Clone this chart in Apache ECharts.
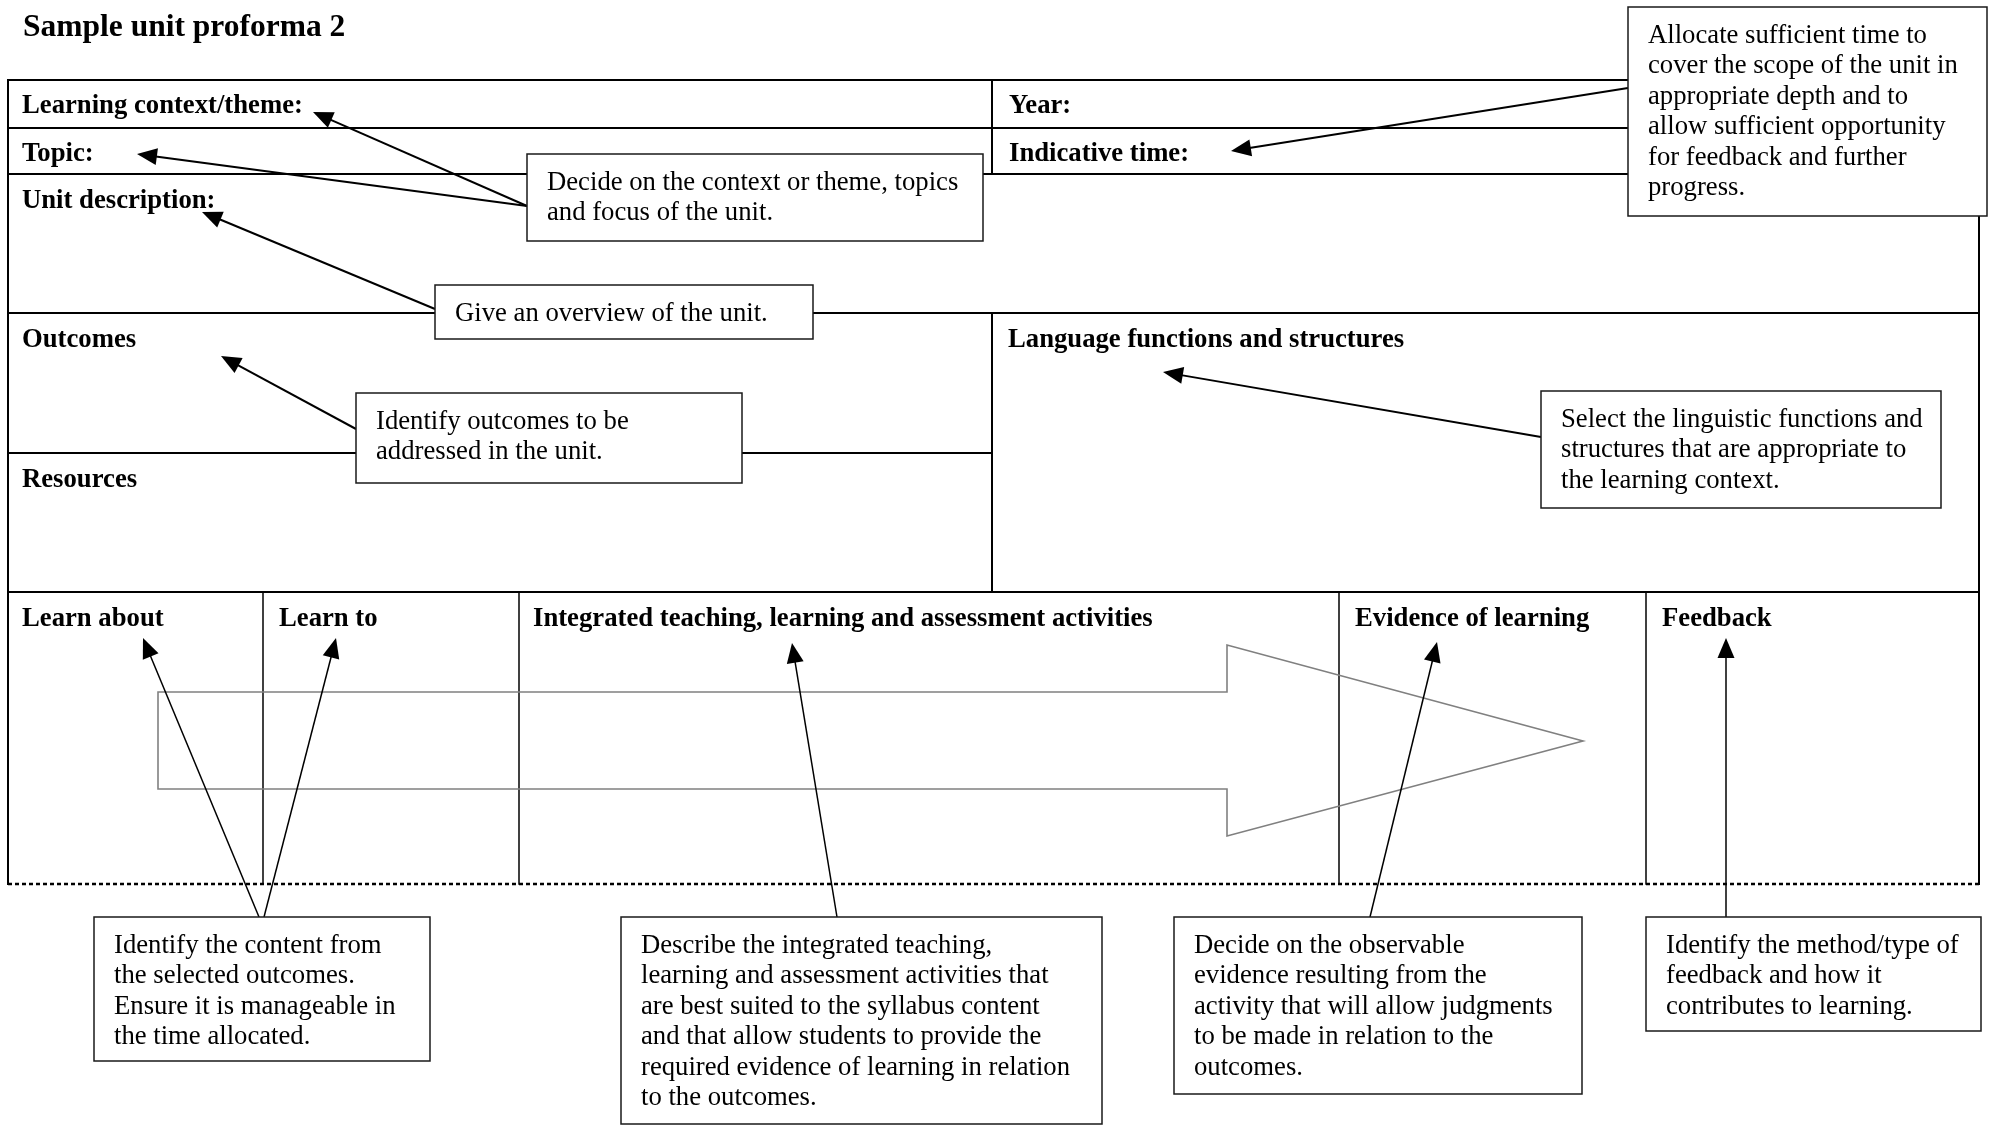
<!DOCTYPE html>
<html><head><meta charset="utf-8">
<script src="https://cdn.jsdelivr.net/npm/echarts@6/dist/echarts.min.js"></script>
<style>html,body{margin:0;padding:0;background:#fff;}#c{width:1993px;height:1128px;}</style>
</head><body><div id="c"></div>
<script>
// ---- data (diagram coordinates in a 1993 x 1128 value space) ----
const pageTitle = ['Sample unit proforma 2', 23, 28];
const headingTexts = ['Learning context/theme:', 'Topic:', 'Unit description:', 'Year:', 'Indicative time:',
  'Outcomes', 'Resources', 'Language functions and structures', 'Learn about', 'Learn to',
  'Integrated teaching, learning and assessment activities', 'Evidence of learning', 'Feedback'];
const headingX = [22, 22, 22, 1009, 1009, 22, 22, 1008, 22, 279, 533, 1355, 1662];
const headingY = [106, 154, 201, 106, 154, 340, 480, 340, 619, 619, 619, 619, 619];

const ruleLinesThick = [
  [8, 80, 1979, 80], [8, 128, 1979, 128], [8, 174, 1979, 174], [8, 313, 1979, 313],
  [8, 453, 992, 453], [8, 592, 1979, 592],
  [8, 80, 8, 884], [1979, 80, 1979, 884], [992, 80, 992, 174], [992, 313, 992, 592]
];
const ruleLinesThin = [[263, 592, 263, 884], [519, 592, 519, 884], [1339, 592, 1339, 884], [1646, 592, 1646, 884]];
const dottedLine = [[8, 884, 1979, 884]];
const flowArrowOutline = [[158, 692], [1227, 692], [1227, 645], [1583, 741], [1227, 836], [1227, 789], [158, 789]];

const pointersTop = [
  [527, 206, 313, 112], [527, 206, 137, 154], [435, 309, 202, 212],
  [1628, 88, 1231, 151], [356, 429, 221, 356], [1541, 437, 1163, 372]
];
const pointersBottom = [
  [259, 917, 143, 638], [264, 917, 336, 638], [837, 917, 792, 643], [1370, 917, 1437, 642], [1726, 917, 1726, 638]
];

const calloutBoxes = [
  [527, 154, 983, 241], [435, 285, 813, 339], [1628, 7, 1987, 216], [356, 393, 742, 483],
  [1541, 391, 1941, 508], [94, 917, 430, 1061], [621, 917, 1102, 1124], [1174, 917, 1582, 1094], [1646, 917, 1981, 1031]
];
const calloutLines = [
  ['Decide on the context or theme, topics', 'and focus of the unit.'],
  ['Give an overview of the unit.'],
  ['Allocate sufficient time to', 'cover the scope of the unit in', 'appropriate depth and to', 'allow sufficient opportunity', 'for feedback and further', 'progress.'],
  ['Identify outcomes to be', 'addressed in the unit.'],
  ['Select the linguistic functions and', 'structures that are appropriate to', 'the learning context.'],
  ['Identify the content from', 'the selected outcomes.', 'Ensure it is manageable in', 'the time allocated.'],
  ['Describe the integrated teaching,', 'learning and assessment activities that', 'are best suited to the syllabus content', 'and that allow students to provide the', 'required evidence of learning in relation', 'to the outcomes.'],
  ['Decide on the observable', 'evidence resulting from the', 'activity that will allow judgments', 'to be made in relation to the', 'outcomes.'],
  ['Identify the method/type of', 'feedback and how it', 'contributes to learning.']
];

// ---- styles ----
const FONT = '"Liberation Serif", "Times New Roman", serif';
const BODY_SIZE = 26.7, TITLE_SIZE = 31.5, LINE_H = 30.5, PAD_X = 20, PAD_Y = 28.5;

function lineSeries(data, width, dash) {
  return {
    type: 'custom', coordinateSystem: 'cartesian2d', data: data, z: 1,
    renderItem: function (params, api) {
      const d = data[params.dataIndex];
      const a = api.coord([d[0], d[1]]), b = api.coord([d[2], d[3]]);
      return { type: 'line', shape: { x1: a[0], y1: a[1], x2: b[0], y2: b[1] },
        style: { stroke: '#000', lineWidth: width, lineDash: dash || null, lineCap: dash ? 'butt' : 'square' } };
    }
  };
}
function pointerSeries(data, width) {
  return {
    type: 'custom', coordinateSystem: 'cartesian2d', data: data, z: 3,
    renderItem: function (params, api) {
      const d = data[params.dataIndex];
      const a = api.coord([d[0], d[1]]), b = api.coord([d[2], d[3]]);
      const dx = b[0] - a[0], dy = b[1] - a[1], L = Math.hypot(dx, dy), ux = dx / L, uy = dy / L;
      const hl = 20, hw = 8.5;
      const bx = b[0] - ux * hl, by = b[1] - uy * hl;
      return { type: 'group', children: [
        { type: 'line', shape: { x1: a[0], y1: a[1], x2: bx + ux * 3, y2: by + uy * 3 }, style: { stroke: '#000', lineWidth: width } },
        { type: 'polygon', shape: { points: [[b[0], b[1]], [bx - uy * hw, by + ux * hw], [bx + uy * hw, by - ux * hw]] }, style: { fill: '#000' } }
      ] };
    }
  };
}

const chart = echarts.init(document.getElementById('c'), null, { renderer: 'canvas' });
chart.setOption({
  animation: false,
  backgroundColor: '#fff',
  grid: { left: 0, right: 0, top: 0, bottom: 0 },
  xAxis: { type: 'value', min: 0, max: 1993, show: false },
  yAxis: { type: 'value', min: 0, max: 1128, inverse: true, show: false },
  series: [
    lineSeries(ruleLinesThick, 2),
    lineSeries(ruleLinesThin, 1.5),
    lineSeries(dottedLine, 2.4, [4, 3]),
    {
      type: 'custom', coordinateSystem: 'cartesian2d', data: [flowArrowOutline[0]], z: 2,
      renderItem: function (params, api) {
        return { type: 'polygon', shape: { points: flowArrowOutline.map(p => api.coord(p)) },
          style: { fill: null, stroke: '#808080', lineWidth: 1.6 } };
      }
    },
    {
      type: 'custom', coordinateSystem: 'cartesian2d', z: 2,
      data: headingX.map((x, i) => [x, headingY[i]]),
      renderItem: function (params, api) {
        const p = api.coord([headingX[params.dataIndex], headingY[params.dataIndex]]);
        return { type: 'text', x: p[0], y: p[1], style: { text: headingTexts[params.dataIndex], fill: '#000',
          fontFamily: FONT, fontWeight: 'bold', fontSize: BODY_SIZE, align: 'left', verticalAlign: 'middle' } };
      }
    },
    {
      type: 'custom', coordinateSystem: 'cartesian2d', z: 2, data: [[pageTitle[1], pageTitle[2]]],
      renderItem: function (params, api) {
        const p = api.coord([pageTitle[1], pageTitle[2]]);
        return { type: 'text', x: p[0], y: p[1], style: { text: pageTitle[0], fill: '#000',
          fontFamily: FONT, fontWeight: 'bold', fontSize: TITLE_SIZE, align: 'left', verticalAlign: 'middle' } };
      }
    },
    pointerSeries(pointersTop, 2),
    pointerSeries(pointersBottom, 1.5),
    {
      type: 'custom', coordinateSystem: 'cartesian2d', z: 4,
      data: calloutBoxes.map(b => [b[0], b[1], b[2], b[3]]),
      renderItem: function (params, api) {
        const b = calloutBoxes[params.dataIndex];
        const p0 = api.coord([b[0], b[1]]), p1 = api.coord([b[2], b[3]]);
        const kids = [{ type: 'rect', shape: { x: p0[0], y: p0[1], width: p1[0] - p0[0], height: p1[1] - p0[1] },
          style: { fill: '#fff', stroke: '#1a1a1a', lineWidth: 1.5 } }];
        calloutLines[params.dataIndex].forEach((t, k) => {
          const q = api.coord([b[0] + PAD_X, b[1] + PAD_Y + k * LINE_H]);
          kids.push({ type: 'text', x: q[0], y: q[1], style: { text: t, fill: '#000', fontFamily: FONT,
            fontSize: BODY_SIZE, align: 'left', verticalAlign: 'middle' } });
        });
        return { type: 'group', children: kids };
      }
    }
  ]
});
</script></body></html>
